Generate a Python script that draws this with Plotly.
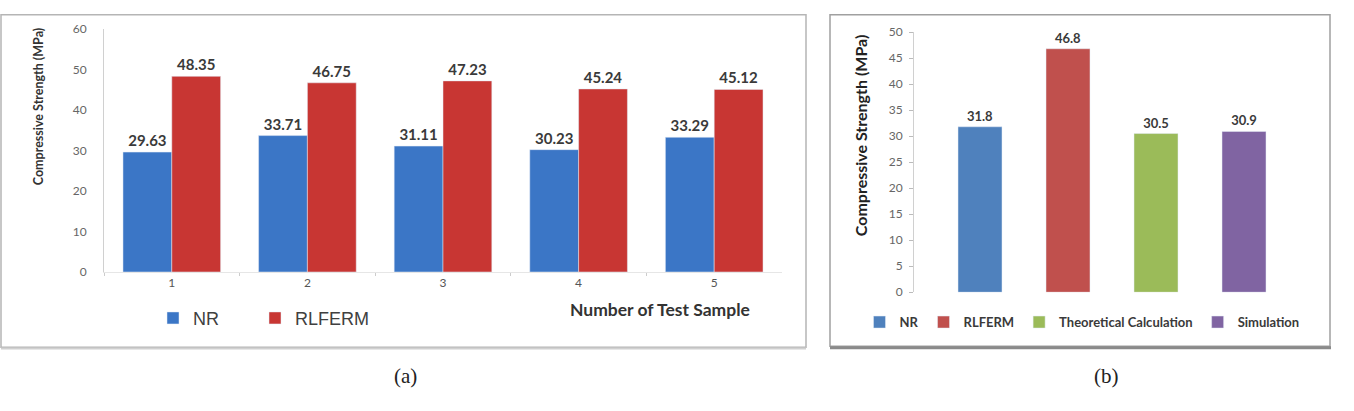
import plotly.graph_objects as go

# ---- data ----
samples = ["1", "2", "3", "4", "5"]
nr_values = [29.63, 33.71, 31.11, 30.23, 33.29]
rlferm_values = [48.35, 46.75, 47.23, 45.24, 45.12]

methods = ["NR", "RLFERM", "Theoretical Calculation", "Simulation"]
method_values = [31.8, 46.8, 30.5, 30.9]

left_y_ticks = [0, 10, 20, 30, 40, 50, 60]
right_y_ticks = [0, 5, 10, 15, 20, 25, 30, 35, 40, 45, 50]

W, H = 1354, 411
def px(x):
    return x / W
def py(y):
    return 1 - y / H

left_colors = {"NR": "#3b76c6", "RLFERM": "#c83633"}
right_colors = ["#4f81bd", "#c0504d", "#9bbb59", "#8064a2"]

fig = go.Figure()

left_label_font = dict(family="Lato, Arial", size=15, color="#3a3a3a", weight="bold")
label_font = dict(family="Lato, Arial", size=13, color="#3a3a3a", weight="bold")

fig.add_trace(go.Bar(
    x=samples, y=nr_values, name="NR", marker_color=left_colors["NR"],
    text=[f"{v:.2f}" for v in nr_values], textposition="outside",
    textfont=left_label_font, cliponaxis=False,
    xaxis="x", yaxis="y", legend="legend", offsetgroup="nr"))
fig.add_trace(go.Bar(
    x=samples, y=rlferm_values, name="RLFERM", marker_color=left_colors["RLFERM"],
    text=[f"{v:.2f}" for v in rlferm_values], textposition="outside",
    textfont=left_label_font, cliponaxis=False,
    xaxis="x", yaxis="y", legend="legend3", offsetgroup="rl"))

for name, val, col in zip(methods, method_values, right_colors):
    fig.add_trace(go.Bar(
        x=[name], y=[val], name=name, marker_color=col, width=0.5,
        text=[f"{val:.1f}"], textposition="outside",
        textfont=label_font, cliponaxis=False,
        xaxis="x2", yaxis="y2", legend="legend2", offsetgroup="b"))

tick_font = dict(family="Lato, Arial", size=12, color="#666666")
left_legend_font = dict(family="Arial, Liberation Sans", size=18, color="#404040")

fig.update_layout(
    width=W, height=H,
    margin=dict(l=0, r=0, t=0, b=0),
    paper_bgcolor="white", plot_bgcolor="white",
    barmode="group", bargap=0.28, bargroupgap=0,
    xaxis=dict(domain=[px(104), px(782)], type="category",
               categoryorder="array", categoryarray=samples,
               showline=True, linecolor="#e6e6e6", linewidth=1,
               ticks="outside", tickson="boundaries", ticklen=3, tickcolor="#cccccc",
               tickfont=dict(family="Lato, Arial", size=12, color="#555555"),
               showgrid=False, zeroline=False, anchor="y"),
    yaxis=dict(domain=[py(274), py(22)], range=[0, 60], tickvals=left_y_ticks,
               showline=True, linecolor="#d0d0d0", linewidth=1,
               ticks="", ticklabelstandoff=14,
               tickfont=tick_font, showgrid=False, zeroline=False, anchor="x"),
    xaxis2=dict(domain=[px(914), px(1310)], type="category",
                categoryorder="array", categoryarray=methods,
                range=[-0.75, 3.75], showticklabels=False,
                showline=False, ticks="", showgrid=False, zeroline=False, anchor="y2"),
    yaxis2=dict(domain=[py(295), py(25)], range=[0, 50], tickvals=right_y_ticks,
                showline=True, linecolor="#d0d0d0", linewidth=1,
                ticks="outside", ticklen=4, tickcolor="#bbbbbb", ticklabelstandoff=4,
                tickfont=tick_font, showgrid=False, zeroline=False, anchor="x2"),
    legend=dict(orientation="h", x=px(153), xanchor="left", y=py(322), yanchor="middle",
                font=left_legend_font, bgcolor="rgba(0,0,0,0)", itemclick=False),
    legend3=dict(orientation="h", x=px(255), xanchor="left", y=py(322), yanchor="middle",
                 font=left_legend_font, bgcolor="rgba(0,0,0,0)", itemclick=False),
    legend2=dict(orientation="h", x=px(1082), xanchor="center", y=py(326), yanchor="middle",
                 font=dict(family="Lato, Arial", size=13, color="#3a3a3a", weight="bold"),
                 bgcolor="rgba(0,0,0,0)", itemclick=False),
    showlegend=True,
)

def ann(text, x, y, font, angle=0):
    return dict(text=text, x=px(x), y=py(y), xref="paper", yref="paper",
                xanchor="center", yanchor="middle", textangle=angle,
                showarrow=False, font=font)

annotations = [
    ann("Compressive Strength (MPa)", 38, 103,
        dict(family="Lato, Arial", size=12.5, color="#333333", weight="bold"), -90),
    ann("Number of Test Sample", 660, 313,
        dict(family="Lato, Arial", size=17.5, color="#333333", weight="bold")),
    ann("Compressive Strength (MPa)", 860, 132,
        dict(family="Lato, Arial", size=16, color="#222222", weight="bold"), -90),
    ann("(a)", 405, 382,
        dict(family="Liberation Serif, Times New Roman", size=21, color="#222222")),
    ann("(b)", 1106, 382,
        dict(family="Liberation Serif, Times New Roman", size=21, color="#222222")),
]
fig.update_layout(annotations=annotations)

shapes = [
    dict(type="rect", xref="paper", yref="paper", x0=px(1), x1=px(806), y0=py(352), y1=py(7),
         line=dict(color="#b5b5b5", width=1.5)),
    dict(type="line", xref="paper", yref="paper", x0=px(1), x1=px(806), y0=py(353.5), y1=py(353.5),
         line=dict(color="#d0d0d0", width=2)),
    dict(type="rect", xref="paper", yref="paper", x0=px(830), x1=px(1330), y0=py(351), y1=py(7),
         line=dict(color="#a0a0a0", width=1.5)),
    dict(type="line", xref="paper", yref="paper", x0=px(830), x1=px(1331), y0=py(352.5), y1=py(352.5),
         line=dict(color="#8a8a8a", width=3)),
]
fig.update_layout(shapes=shapes)

fig.write_html("out.html")
